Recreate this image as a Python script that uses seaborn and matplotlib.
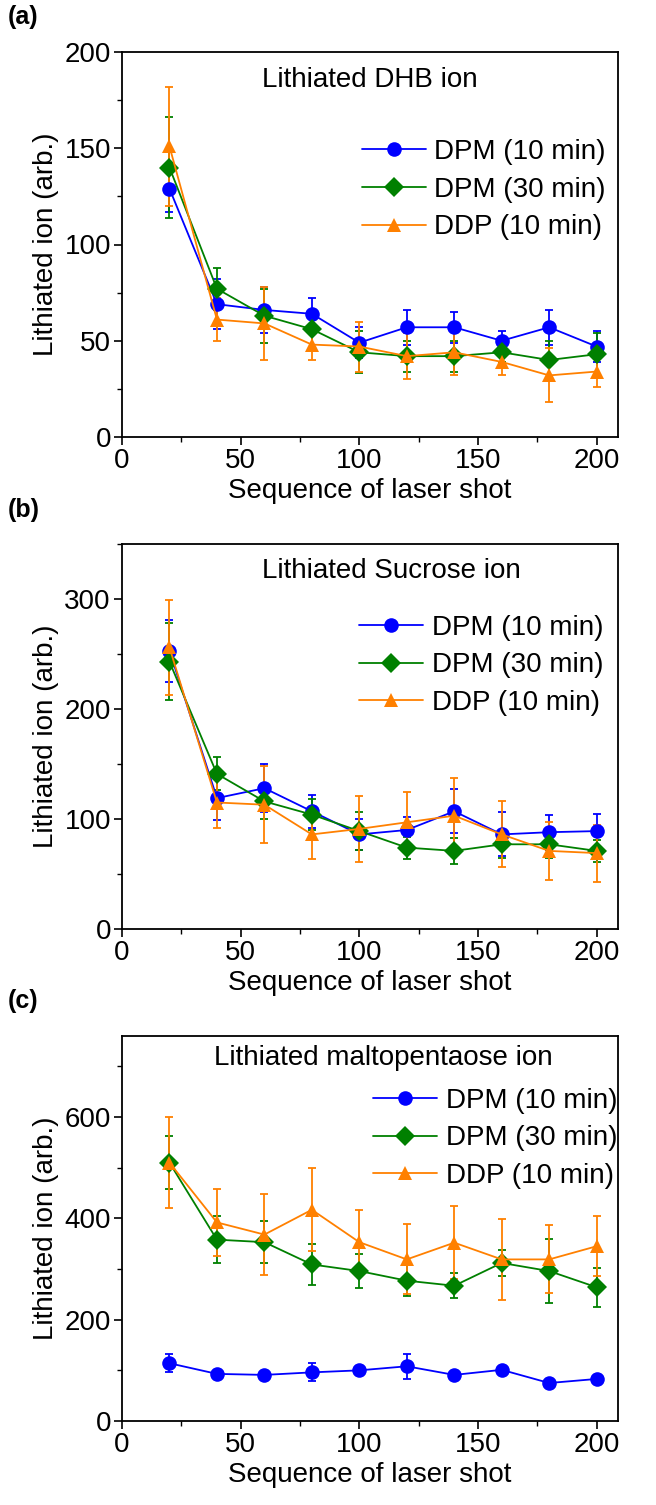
import pandas as pd
import seaborn as sns
import matplotlib.pyplot as plt
from matplotlib.ticker import MultipleLocator

# Dados
shots = [20, 40, 60, 80, 100, 120, 140, 160, 180, 200]
series = ["DPM (10 min)", "DPM (30 min)", "DDP (10 min)"]
colors = ["#0000ff", "#008000", "#ff8000"]
markers = ["o", "D", "^"]

# (a) Lithiated DHB ion
dhb_dpm10 = [129, 69, 66, 64, 49, 57, 57, 50, 57, 47]
dhb_dpm10_err = [12, 13, 12, 8, 8, 9, 8, 5, 9, 8]
dhb_dpm30 = [140, 77, 63, 56, 44, 42, 42, 44, 40, 43]
dhb_dpm30_err = [26, 11, 14, 10, 11, 8, 8, 5, 10, 11]
dhb_ddp10 = [151, 61, 59, 48, 47, 42, 44, 39, 32, 34]
dhb_ddp10_err = [31, 11, 19, 8, 13, 12, 12, 7, 14, 8]

# (b) Lithiated Sucrose ion
suc_dpm10 = [253, 119, 128, 107, 86, 90, 107, 86, 88, 89]
suc_dpm10_err = [28, 20, 22, 15, 14, 12, 20, 20, 16, 16]
suc_dpm30 = [243, 141, 116, 104, 89, 74, 71, 77, 77, 71]
suc_dpm30_err = [35, 15, 16, 14, 17, 10, 12, 12, 12, 10]
suc_ddp10 = [256, 115, 113, 86, 91, 97, 103, 86, 71, 69]
suc_ddp10_err = [43, 23, 35, 22, 30, 28, 34, 30, 26, 26]

# (c) Lithiated maltopentaose ion
mal_dpm10 = [114, 93, 91, 96, 100, 108, 91, 101, 75, 83]
mal_dpm10_err = [18, 5, 5, 18, 8, 25, 8, 8, 8, 8]
mal_dpm30 = [510, 358, 353, 309, 296, 277, 267, 312, 296, 264]
mal_dpm30_err = [53, 46, 42, 40, 33, 30, 25, 25, 64, 38]
mal_ddp10 = [510, 392, 368, 417, 353, 319, 352, 319, 319, 345]
mal_ddp10_err = [90, 66, 80, 82, 64, 69, 72, 80, 67, 59]

sns.set_style("ticks")
plt.rcParams['font.family'] = ['Liberation Sans', 'DejaVu Sans']
plt.rcParams['text.color'] = 'black'
plt.rcParams['axes.labelcolor'] = 'black'
plt.rcParams['xtick.color'] = 'black'
plt.rcParams['ytick.color'] = 'black'
plt.rcParams['axes.edgecolor'] = 'black'

fig = plt.figure(figsize=(6.56, 15.05), dpi=100)
W, H = 656, 1505
FS = 20


def make_axes(top, bottom):
    # posição em pixels -> fração da figura
    return fig.add_axes([122 / W, (H - bottom) / H, 496 / W, (bottom - top) / H])


def draw_panel(ax, means, errs, title, ymax, ymajor, yminor, title_pos, leg_pos, letter, letter_y):
    rows = []
    for name, vals in zip(series, means):
        for s, v in zip(shots, vals):
            rows.append({"shot": s, "value": v, "sample": name})
    df = pd.DataFrame(rows)

    for vals, err, c in zip(means, errs, colors):
        ax.errorbar(shots, vals, yerr=err, fmt='none', ecolor=c,
                    elinewidth=1.3, capsize=3, capthick=1.3)

    sns.lineplot(data=df, x="shot", y="value", hue="sample", style="sample",
                 palette=dict(zip(series, colors)), markers=dict(zip(series, markers)),
                 dashes=False, markersize=10.5, markeredgewidth=0, linewidth=1.3,
                 ax=ax)

    ax.set_xlim(0, 209)
    ax.set_ylim(0, ymax)
    ax.xaxis.set_major_locator(MultipleLocator(50))
    ax.xaxis.set_minor_locator(MultipleLocator(25))
    ax.yaxis.set_major_locator(MultipleLocator(ymajor))
    ax.yaxis.set_minor_locator(MultipleLocator(yminor))
    ax.tick_params(which='major', direction='out', length=6, width=1.2,
                   labelsize=FS, pad=2)
    ax.tick_params(which='minor', direction='out', length=3.5, width=1.0)
    for sp in ax.spines.values():
        sp.set_linewidth(1.3)
        sp.set_visible(True)

    ax.set_xlabel("Sequence of laser shot", fontsize=FS, labelpad=3)
    ax.set_ylabel("Lithiated ion (arb.)", fontsize=FS, labelpad=4)
    ax.text(title_pos[0], title_pos[1], title, transform=ax.transAxes,
            ha='center', va='center', fontsize=FS)

    handles, labels = ax.get_legend_handles_labels()
    ax.legend(handles, labels, loc='center right', bbox_to_anchor=leg_pos,
              frameon=False, fontsize=FS, handlelength=2.3, handletextpad=0.3,
              labelspacing=0.42, borderaxespad=0, borderpad=0)

    fig.text(8 / W, 1 - letter_y / H, letter, fontsize=18, fontweight='bold',
             ha='left', va='center')


ax1 = make_axes(52, 437)
draw_panel(ax1, [dhb_dpm10, dhb_dpm30, dhb_ddp10],
           [dhb_dpm10_err, dhb_dpm30_err, dhb_ddp10_err],
           "Lithiated DHB ion", 200, 50, 25, (0.5, 0.927), (0.975, 0.642), "(a)", 17)

ax2 = make_axes(544, 929)
draw_panel(ax2, [suc_dpm10, suc_dpm30, suc_ddp10],
           [suc_dpm10_err, suc_dpm30_err, suc_ddp10_err],
           "Lithiated Sucrose ion", 350, 100, 50, (0.544, 0.93), (0.97, 0.685), "(b)", 510)

ax3 = make_axes(1036, 1421)
draw_panel(ax3, [mal_dpm10, mal_dpm30, mal_ddp10],
           [mal_dpm10_err, mal_dpm30_err, mal_ddp10_err],
           "Lithiated maltopentaose ion", 760, 200, 100, (0.527, 0.943), (0.998, 0.734), "(c)", 1001)

plt.savefig("out.png", dpi=100)
